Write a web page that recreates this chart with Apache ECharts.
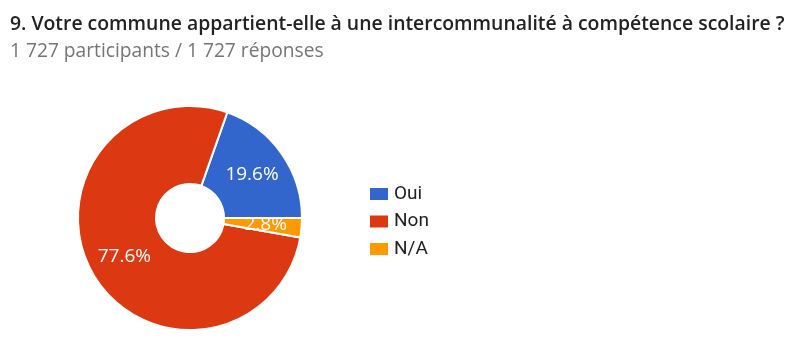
<!DOCTYPE html>
<html><head><meta charset="utf-8">
<script src="https://cdn.jsdelivr.net/npm/echarts@6/dist/echarts.min.js"></script>
<style>html,body{margin:0;padding:0;background:#fff}#c{width:804px;height:344px}</style>
</head><body><div id="c"></div>
<script>
const titleText = "9. Votre commune appartient-elle à une intercommunalité à compétence scolaire ?";
const subtitleText = "1 727 participants / 1 727 réponses";
const categories = ["Oui", "Non", "N/A"];
const values = [19.6, 77.6, 2.8];
const colors = ["#3366CC", "#DC3912", "#FF9900"];

const chart = echarts.init(document.getElementById('c'), null, {renderer: 'canvas'});
chart.setOption({
  animation: false,
  color: colors,
  title: {
    text: titleText, subtext: subtitleText, left: 5, top: 10, itemGap: 8,
    textStyle: {fontFamily: 'Open Sans', fontWeight: 600, fontSize: 19.4, color: '#222'},
    subtextStyle: {fontFamily: 'Open Sans', fontSize: 19.2, color: '#757575'}
  },
  legend: {
    orient: 'vertical', left: 363, top: 179, itemWidth: 20, itemHeight: 14, itemGap: 7.5,
    icon: 'rect',
    textStyle: {fontFamily: 'Roboto', fontSize: 19, lineHeight: 20, color: '#222'},
    data: categories
  },
  series: [{
    type: 'pie', center: [190, 218], radius: [34, 112], startAngle: 0, clockwise: false,
    itemStyle: {borderColor: '#fff', borderWidth: 2},
    label: {position: 'inside', formatter: p => p.value.toFixed(1) + '%', color: '#fff',
            fontFamily: 'Open Sans', fontSize: 19},
    labelLine: {show: false},
    emphasis: {disabled: true},
    data: categories.map((c, i) => ({name: c, value: values[i]}))
  }]
});
</script></body></html>
